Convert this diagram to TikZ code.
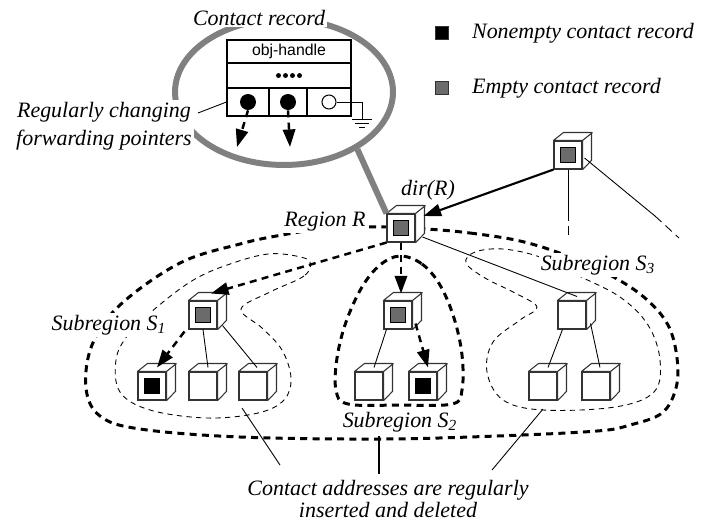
\documentclass[tikz,border=0pt]{standalone}
\usepackage{fontspec}
\setmainfont{Liberation Serif}
\setsansfont{Liberation Sans}
\usetikzlibrary{shapes.geometric, arrows.meta, calc}

\tikzstyle{cube} = [rectangle, draw=black!80, fill=white, line width=0.6pt, minimum size=0.56cm, inner sep=0pt]
\tikzstyle{cubeface} = [draw=black!80, fill=white, line width=0.6pt, line join=round]
\tikzstyle{core} = [rectangle, draw=black, line width=0.6pt, minimum size=0.3cm, inner sep=0pt]
\tikzstyle{keybox} = [rectangle, draw=black!80, line width=0.6pt, minimum size=0.26cm, inner sep=0pt]
\tikzstyle{lbl} = [font=\fontsize{12.5}{16}\selectfont\itshape, fill=white, inner sep=1pt]
\tikzstyle{regline} = [line width=1.7pt, dash pattern=on 4pt off 3pt]
\tikzstyle{subline} = [line width=0.5pt, dash pattern=on 3pt off 2.5pt]
\tikzstyle{ptr} = [line width=1.4pt, dash pattern=on 4pt off 3pt, -{Triangle[length=10pt,width=7pt]}]
\tikzstyle{link} = [line width=0.5pt]
\tikzstyle{loupe} = [ellipse, draw=black!50, line width=3.4pt, minimum width=4.36cm, minimum height=2.92cm, inner sep=0pt]
\tikzstyle{reccell} = [rectangle, draw, line width=0.6pt, inner sep=0pt, minimum height=0.56cm]

\newcommand{\cubebox}[3][]{%
  \node (#2) [cube] at (#3) {};
  \draw[cubeface] (#2.north west) -- ++(10,-8) -- ++(28,0) -- ++(0,28) -- (#2.south east) -- (#2.north east) -- cycle;
  \draw[cubeface] (#2.north east) -- ++(10,-8);
  \ifx\relax#1\relax\else\node [core, fill=#1] at (#2.center) {};\fi
}

\begin{document}
\begin{tikzpicture}[x=0.02cm, y=-0.02cm]
\useasboundingbox (0,0) rectangle (706,525);

% regions
\draw[regline] plot[smooth cycle, tension=0.6] coordinates {(427,229) (470,233) (520,241) (565,255) (610,275) (645,298) (668,325) (677,358) (676,388) (662,413) (630,425) (597,431) (497,436) (380,439) (240,437) (140,429) (100,416) (86,388) (92,345) (120,305) (180,263) (240,244) (282,235) (330,228) (387,227)};
\draw[regline] plot[smooth cycle, tension=0.6] coordinates {(400,256) (422,264) (440,285) (454,318) (462,355) (462,390) (452,404) (400,405) (348,404) (336,390) (337,358) (346,322) (362,287) (380,265)};
\draw[subline] plot[smooth cycle, tension=0.6] coordinates {(310,262) (304,276) (270,292) (241,309) (262,328) (282,350) (291,378) (284,400) (258,413) (207,418) (150,410) (120,392) (116,360) (128,335) (157,307) (195,279) (233,263) (268,254) (296,256)};
\draw[subline] plot[smooth cycle, tension=0.6] coordinates {(540,257) (577,275) (620,297) (648,325) (660,360) (654,392) (615,407) (543,410) (503,400) (487,372) (493,342) (520,320) (537,307) (515,293) (485,278) (466,263) (475,252) (503,249)};

% contact record under the loupe
\node (loupe) [loupe] at (284,92) {};
\cubebox[black!58]{dirR}{401,228}
\draw[line width=3.4pt, black!50] (loupe.-38) -- (dirR.north west);
\node (handle) [reccell, minimum width=2.48cm, minimum height=0.46cm, font=\fontsize{9}{10}\selectfont\sffamily] at (289,51.5) {obj-handle};
\node (fill) [reccell, minimum width=2.48cm, minimum height=0.5cm] at (289,75.5) {};
\foreach \i in {0,...,3}
  \fill (278.5+7*\i,75.5) circle (1.4pt);
\node (ptrA) [reccell, minimum width=0.84cm] at (248,102) {};
\node (ptrB) [reccell, minimum width=0.76cm] at (288,102) {};
\node (ptrC) [reccell, minimum width=0.88cm] at (329,102) {};
\node (dotA) [circle, fill=black, inner sep=0pt, minimum size=0.32cm] at (248,102) {};
\node (dotB) [circle, fill=black, inner sep=0pt, minimum size=0.32cm] at (288,102) {};
\node (nullptr) [circle, draw, line width=0.6pt, fill=white, inner sep=0pt, minimum size=0.28cm] at (329,102) {};
\coordinate (gnd) at (362,119);
\draw[link] (nullptr.east) -| (gnd);
\draw[link] (gnd) ++(-10,0) -- ++(20,0) (gnd) ++(-7,4) -- ++(14,0) (gnd) ++(-3,8) -- ++(6,0);
\coordinate (tipA) at (237,147);
\coordinate (tipB) at (290,147);
\draw[ptr] (dotA.south) -- (tipA);
\draw[ptr] (dotB.south) -- (tipB);

% directory tree
\cubebox[black!58]{toprt}{568,155}
\cubebox[black!58]{sonetop}{203,315}
\cubebox[black]{sonea}{152,386}
\cubebox{soneb}{203,386}
\cubebox{sonec}{253,386}
\cubebox[black!58]{stwotop}{398,315}
\cubebox{stwoa}{369,386}
\cubebox[black]{stwob}{423,386}
\cubebox{sthreetop}{572,315}
\cubebox{sthreea}{543,386}
\cubebox{sthreeb}{596,386}

\draw[line width=1.2pt, -{Triangle[length=10pt,width=7pt]}] (toprt.south west) -- ($(dirR.east)+(8,-12)$);
\coordinate (trA) at (568,212);
\coordinate (trB) at (568,237);
\coordinate (trC) at (655,216);
\coordinate (trD) at (679,238);
\draw[link] (toprt.south) -- (trA);
\draw[link, dash pattern=on 5pt off 3pt] (trA) -- (trB);
\draw[link] ($(toprt.east)+(2,3)$) -- (trC);
\draw[link, dash pattern=on 5pt off 3pt] (trC) -- (trD);

\draw[ptr] (dirR.south west) -- ($(sonetop.north)+(8,-7)$);
\draw[ptr] (dirR.south) -- ($(stwotop.north)+(3,-7)$);
\draw[link] ($(dirR.east)+(7,9)$) -- ($(sthreetop.north)+(5,-4)$);

\draw[ptr] ($(sonetop.south west)+(-4,2)$) -- ($(sonea.north)+(5,-4)$);
\draw[link] (sonetop.south) -- ($(soneb.north)+(5,-4)$);
\draw[link] ($(sonetop.south east)+(5,-4)$) -- ($(sonec.north)+(4,-4)$);
\draw[link] ($(stwotop.south west)+(3,0)$) -- ($(stwoa.north)+(5,-4)$);
\draw[ptr] ($(stwotop.south east)+(3,-6)$) -- ($(stwob.north)+(5,-4)$);
\draw[link] ($(sthreetop.south west)+(5,0)$) -- ($(sthreea.north)+(5,-4)$);
\draw[link] ($(sthreetop.south east)+(4,-6)$) -- ($(sthreeb.north)+(4,-4)$);

% legend
\node (nonemptykey) [keybox, fill=black] at (442,33) {};
\node (emptykey) [keybox, fill=black!58] at (442,88) {};
\node (nonemptytext) [lbl, anchor=west] at (470,33) {Nonempty contact record};
\node (emptytext) [lbl, anchor=west] at (470,88) {Empty contact record};

% labels
\node (recordlbl) [lbl] at (259,18) {Contact record};
\node (ptrlbl) [lbl, align=center] at (104,126) {Regularly changing\\forwarding pointers};
\coordinate (ptrlead) at (198,113);
\draw[link] (ptrlead) -- (ptrA.west);
\node (dirlbl) [lbl, fill=none] at (428,190) {dir(R)};
\node (regionlbl) [lbl] at (325,222) {Region R};
\node (sonelbl) [lbl] at (109,325) {Subregion S\textsubscript{1}};
\node (stwolbl) [lbl, fill=none] at (400,422) {Subregion S\textsubscript{2}};
\node (sthreelbl) [lbl] at (598,265) {Subregion S\textsubscript{3}};
\node (addrlbl) [lbl, fill=none, align=center, font=\fontsize{12.5}{12.5}\selectfont\itshape] at (388,499) {Contact addresses are regularly\\inserted and deleted};

\coordinate (addrA) at (280,465);
\coordinate (addrB) at (379,474);
\coordinate (addrC) at (492,470);
\coordinate (sonefoot) at (242,408);
\coordinate (rfoot) at (379,436);
\coordinate (sthreefoot) at (543,409);
\draw[link] (addrA) -- (sonefoot);
\draw[line width=1.7pt] (addrB) -- (rfoot);
\draw[link] (addrC) -- (sthreefoot);
\end{tikzpicture}
\end{document}
